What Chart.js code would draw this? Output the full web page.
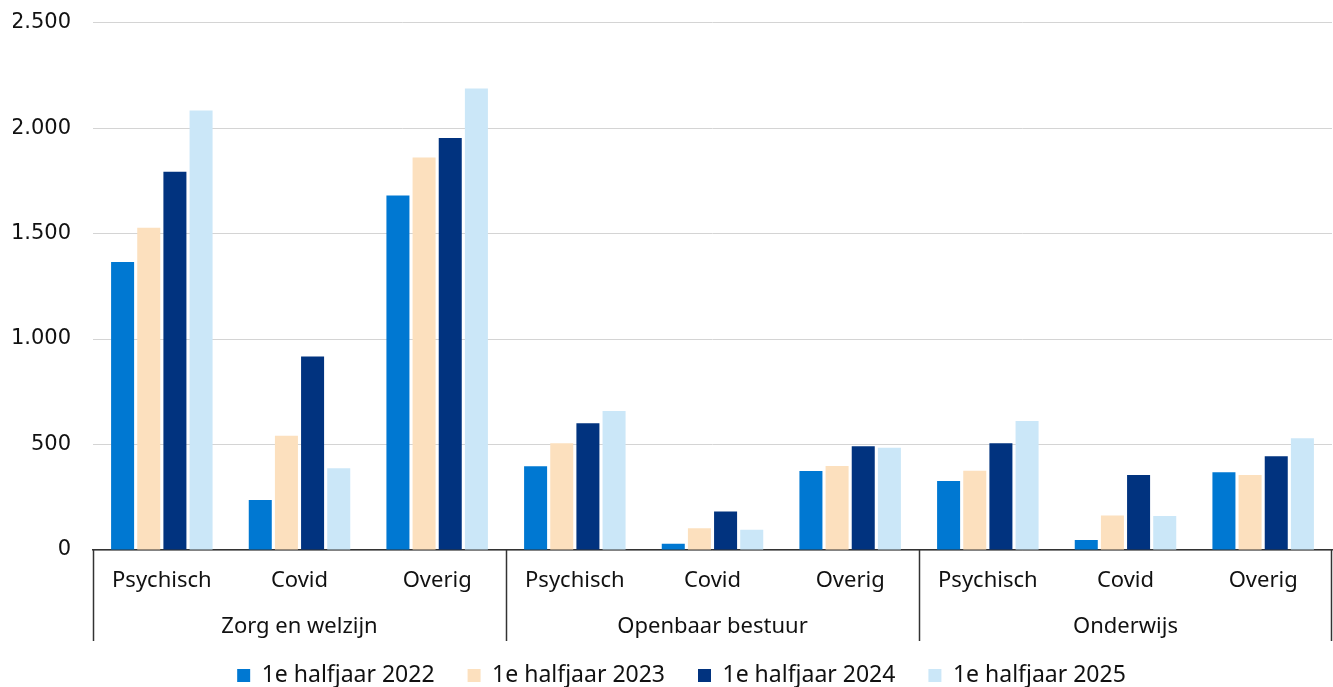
<!DOCTYPE html>
<html>
<head>
<meta charset="utf-8">
<script src="https://cdn.jsdelivr.net/npm/chart.js@4/dist/chart.umd.min.js"></script>
<style>
  html, body { margin: 0; padding: 0; background: #fff; overflow: hidden; }
  #wrap { width: 1333px; height: 699px; margin-top: -12px; }
</style>
</head>
<body>
<div id="wrap"><canvas id="myChart"></canvas></div>
<script>
const categories = ['Psychisch', 'Covid', 'Overig', 'Psychisch', 'Covid', 'Overig', 'Psychisch', 'Covid', 'Overig'];
const groups = ['Zorg en welzijn', 'Openbaar bestuur', 'Onderwijs'];
const perGroup = 3;

const h2022 = [1365, 237, 1680, 397, 30, 375, 327, 47, 369];
const h2023 = [1527, 541, 1861, 506, 103, 398, 376, 163, 356];
const h2024 = [1793, 917, 1953, 601, 182, 492, 506, 356, 444];
const h2025 = [2083, 388, 2188, 659, 96, 485, 612, 161, 530];

const yTicks = [0, 500, 1000, 1500, 2000, 2500];

const catFont = '"Noto Sans", sans-serif';

// group labels + vertical dividers under the category axis
const groupAxis = {
    id: 'groupAxis',
    afterLayout(chart) {
        // legend sits centred under the plot area, not the whole canvas
        chart.legend.left += 9;
        chart.legend.right += 9;
    },
    afterDraw(chart) {
        const x = chart.scales.x;
        const ctx = chart.ctx;
        const step = x.getPixelForValue(1) - x.getPixelForValue(0);
        const top = chart.chartArea.bottom;
        ctx.save();
        ctx.strokeStyle = '#333';
        ctx.lineWidth = 1.5;
        for (let g = 0; g <= groups.length; g++) {
            let px;
            if (g < groups.length) px = x.getPixelForValue(g * perGroup) - step / 2;
            else px = x.getPixelForValue(categories.length - 1) + step / 2 - 1;
            px = Math.round(px) + 0.5;
            ctx.beginPath();
            ctx.moveTo(px, top);
            ctx.lineTo(px, top + 91);
            ctx.stroke();
        }
        ctx.fillStyle = '#111';
        ctx.font = '22px ' + catFont;
        ctx.textAlign = 'center';
        ctx.textBaseline = 'middle';
        groups.forEach((name, g) => {
            const a = x.getPixelForValue(g * perGroup);
            const b = x.getPixelForValue(g * perGroup + perGroup - 1);
            ctx.fillText(name, (a + b) / 2, top + 77);
        });
        ctx.restore();
    }
};

new Chart(document.getElementById('myChart'), {
    type: 'bar',
    data: {
        labels: categories,
        datasets: [
            { label: '1e halfjaar 2022', data: h2022, backgroundColor: '#0078d2' },
            { label: '1e halfjaar 2023', data: h2023, backgroundColor: '#fce0be' },
            { label: '1e halfjaar 2024', data: h2024, backgroundColor: '#01337f' },
            { label: '1e halfjaar 2025', data: h2025, backgroundColor: '#cbe7f8' }
        ]
    },
    options: {
        responsive: true,
        maintainAspectRatio: false,
        animation: false,
        categoryPercentage: 0.76,
        barPercentage: 0.88,
        layout: { padding: { left: 13, right: 1, top: 0, bottom: -10 } },
        plugins: {
            tooltip: { enabled: false },
            legend: {
                position: 'bottom',
                labels: {
                    boxWidth: 13,
                    boxHeight: 13,
                    padding: 33,
                    color: '#111',
                    font: { size: 23, family: catFont }
                }
            }
        },
        scales: {
            x: {
                grid: { display: false },
                border: { display: true, color: '#333', width: 1.5 },
                ticks: {
                    color: '#111',
                    padding: 10,
                    maxRotation: 0,
                    autoSkip: false,
                    font: { size: 22, family: catFont }
                },
                afterFit(scale) { scale.height = 81; }
            },
            y: {
                min: 0,
                max: 2500,
                afterBuildTicks(scale) { scale.ticks = yTicks.map(v => ({ value: v })); },
                afterFit(scale) { scale.width = 80; },
                grid: { color: '#d4d4d4', lineWidth: 1, drawTicks: false },
                border: { display: false },
                ticks: {
                    color: '#111',
                    padding: 22,
                    font: { size: 21, family: '"DejaVu Sans", sans-serif' },
                    callback: v => String(v).replace(/\B(?=(\d{3})+(?!\d))/g, '.')
                }
            }
        }
    },
    plugins: [groupAxis]
});
</script>
</body>
</html>
